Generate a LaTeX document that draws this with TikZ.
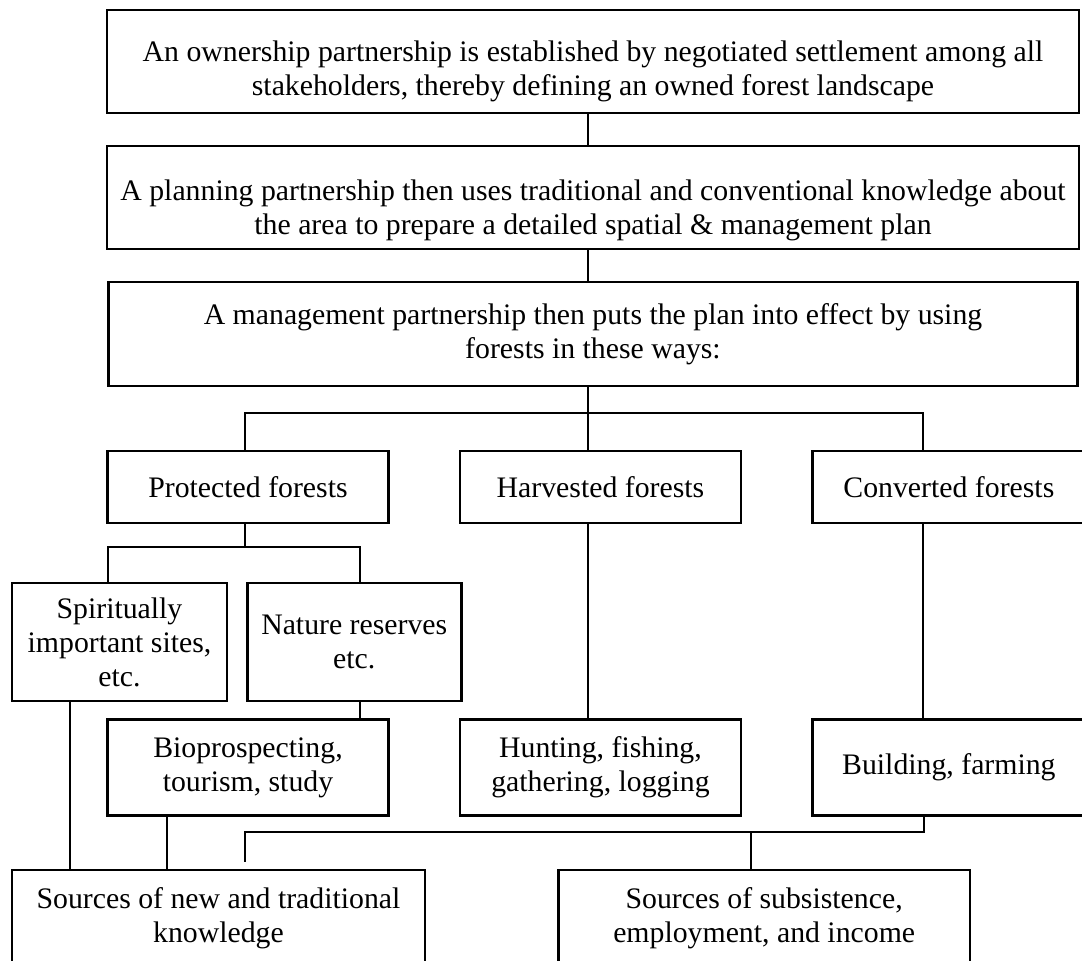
\documentclass[tikz,border=0pt]{standalone}
\usepackage{fontspec}
\setmainfont{Liberation Serif}
\usetikzlibrary{positioning}
\tikzset{
    %Define style for boxes
    feld/.style={
           rectangle,
           draw=black, line width=1.1pt,
           align=center,
           inner sep=2pt,
           minimum width=126.5pt,
           minimum height=32.4pt,
           font=\fontsize{13.4pt}{15.3pt}\selectfont},
    % wide boxes on top
    breitfeld/.style={feld, minimum width=437.4pt, minimum height=46.4pt},
    % Define line style
    linie/.style={draw=black, line width=0.8pt}
}

\begin{document}
\begin{tikzpicture}[x=0.45pt,y=-0.45pt,node distance=13.7pt]
  \useasboundingbox (0,0) rectangle (1082,961);
  \clip (0,0) rectangle (1082,961);
  % partnerships
  \node[breitfeld] (own) at (593,61.5) {\rule{0pt}{18pt}An ownership partnership is established by negotiated settlement among all\\stakeholders, thereby defining an owned forest landscape};
  \node[breitfeld] (plan) [below=of own] {\rule{0pt}{20.8pt}A planning partnership then uses traditional and conventional knowledge about\\the area to prepare a detailed spatial \& management plan};
  \node[breitfeld, minimum width=436pt, minimum height=46.8pt] (manage) [below=of plan] {A management partnership then puts the plan into effect by using\\forests in these ways:};
  % forest types
  \node[feld] (prot) at (248,487) {Protected forests};
  \node[feld] (harv) [right=31pt of prot] {Harvested forests};
  \node[feld, minimum width=122.9pt] (conv) [right=31pt of harv] {Converted forests};
  \node[feld, minimum width=96.6pt, minimum height=53pt] (spirit) at (119.5,642) {Spiritually\\important sites,\\etc.};
  \node[feld, minimum width=96.3pt, minimum height=53pt] (nature) [right=8.1pt of spirit] {Nature reserves\\etc.};
  % uses
  \node[feld, minimum height=43.2pt] (bio) [below=87.3pt of prot] {Bioprospecting,\\tourism, study};
  \node[feld, minimum height=43.2pt] (hunt) [below=87.3pt of harv] {Hunting, fishing,\\gathering, logging};
  \node[feld, minimum width=122.9pt, minimum height=43.2pt] (build) [below=87.3pt of conv] {Building, farming};
  % sources
  \node[feld, minimum width=185.9pt, minimum height=43.2pt] (know) at (218.5,918) {Sources of new and traditional\\knowledge};
  \node[feld, minimum width=185pt, minimum height=43.2pt] (income) [right=59pt of know] {Sources of subsistence,\\employment, and income};

  \coordinate (trunk) at (588,413);
  \coordinate (forkL) at (245,413);
  \coordinate (forkR) at (923,413);
  \coordinate (subM) at (245,547);
  \coordinate (subL) at (108,547);
  \coordinate (subR) at (360,547);
  \coordinate (knowA) at (70,870);
  \coordinate (knowB) at (167,870);
  \coordinate (baseL) at (245,832);
  \coordinate (baseM) at (751,832);
  \coordinate (baseR) at (924,832);

  \draw[linie] (own.south -| trunk) -- (plan.north -| trunk);
  \draw[linie] (plan.south -| trunk) -- (manage.north -| trunk);
  \draw[linie] (manage.south -| trunk) -- (harv.north -| trunk);
  \draw[linie] (prot.north -| forkL) -- (forkL) -- (forkR) -- (conv.north -| forkR);
  \draw[linie] (prot.south -| subM) -- (subM);
  \draw[linie] (spirit.north -| subL) -- (subL) -- (subR) -- (nature.north -| subR);
  \draw[linie] (nature.south -| subR) -- (bio.north -| subR);
  \draw[linie] (harv.south -| trunk) -- (hunt.north -| trunk);
  \draw[linie] (conv.south -| forkR) -- (build.north -| forkR);
  \draw[linie] (spirit.south -| knowA) -- (know.north -| knowA);
  \draw[linie] (bio.south -| knowB) -- (know.north -| knowB);
  \draw[linie, shorten >=3pt] (build.south -| baseR) -- (baseR) -- (baseL) -- (know.north -| baseL);
  \draw[linie] (baseM) -- (income.north -| baseM);
\end{tikzpicture}
\end{document}
